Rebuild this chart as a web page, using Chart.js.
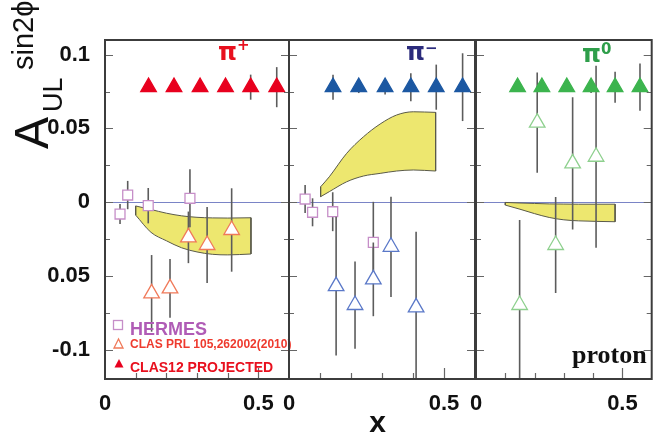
<!DOCTYPE html>
<html>
<head>
<meta charset="utf-8">
<script src="https://cdn.jsdelivr.net/npm/chart.js@4/dist/chart.umd.min.js"></script>
<style>
  html, body { margin: 0; padding: 0; background: #fff; overflow: hidden; width: 658px; height: 436px; }
  #wrap { position: relative; width: 658px; height: 436px; overflow: hidden; }
  #wrap canvas { position: absolute; left: 0; top: 0; }
</style>
</head>
<body>
<div id="wrap">
  <canvas id="panelPlus" width="662" height="436"></canvas>
  <canvas id="panelMinus" width="662" height="436"></canvas>
  <canvas id="panelZero" width="662" height="436"></canvas>
</div>
<script>
// ---- axis ranges and tick labels ----
const yMin = -0.12, yMax = 0.11;
const xMin = 0, xMax = 0.6;
const yTickValues = [-0.1, -0.05, 0, 0.05, 0.1];
const yTickLabels = ['-0.1', '0.05', '0', '0.05', '0.1'];
const yTickMarks = [-0.1, -0.075, -0.05, -0.025, 0, 0.025, 0.05, 0.075, 0.1];
const xTickValues = [0, 0.5];
const xTickLabels = ['0', '0.5'];
const xTickMarks = [0.1, 0.2, 0.3, 0.4, 0.5];

// ---- CLAS12 projected points (same bins for all pions) ----
const projX = [0.142, 0.225, 0.31, 0.393, 0.475, 0.56];
const projPlusY = [0.078, 0.078, 0.078, 0.078, 0.078, 0.078];
const projPlusErr = [0.002, 0.002, 0.002, 0.003, 0.0085, 0.0136];
const projMinusY = [0.078, 0.078, 0.078, 0.078, 0.078, 0.078];
const projMinusErr = [0.0085, 0.004, 0.005, 0.0095, 0.0153, 0.023];
const projZeroY = [0.078, 0.078, 0.078, 0.078, 0.078, 0.078];
const projZeroErr = [0.003, 0.003, 0.003, 0.004, 0.0105, 0.016];

// ---- HERMES ----
const hermesPlusX = [0.049, 0.074, 0.141, 0.277];
const hermesPlusY = [-0.0081, 0.0048, -0.0024, 0.0026];
const hermesPlusErr = [0.0068, 0.0096, 0.012, 0.0197];
const hermesMinusX = [0.052, 0.076, 0.141, 0.272];
const hermesMinusY = [0.0021, -0.0069, -0.0065, -0.0273];
const hermesMinusErr = [0.0095, 0.0095, 0.0132, 0.0275];

// ---- CLAS PRL 105,262002(2010) ----
const clasPlusX = [0.152, 0.212, 0.272, 0.333, 0.413];
const clasPlusY = [-0.0619, -0.0585, -0.0239, -0.0291, -0.0189];
const clasPlusErr = [0.026, 0.020, 0.0175, 0.0258, 0.0283];
const clasMinusX = [0.152, 0.213, 0.272, 0.329, 0.410];
const clasMinusY = [-0.057, -0.0698, -0.0524, -0.0303, -0.0714];
const clasMinusErr = [0.047, 0.0296, 0.025, 0.034, 0.0513];
const clasZeroX = [0.149, 0.209, 0.272, 0.330, 0.410];
const clasZeroY = [-0.0698, 0.0539, -0.0291, 0.0263, 0.0308];
const clasZeroErr = [0.0577, 0.034, 0.0326, 0.0448, 0.0617];

// ---- model bands (upper / lower edges) ----
const bandPlusX = [0.10, 0.15, 0.20, 0.25, 0.30, 0.35, 0.40, 0.476];
const bandPlusUp = [-0.0026, -0.0050, -0.0075, -0.0093, -0.0103, -0.0107, -0.0108, -0.0106];
const bandPlusLow = [-0.0088, -0.0205, -0.0262, -0.0310, -0.0338, -0.0354, -0.0358, -0.0352];
const bandMinusX = [0.102, 0.13, 0.186, 0.24, 0.294, 0.347, 0.401, 0.473];
const bandMinusUp = [0.0104, 0.0172, 0.0331, 0.0443, 0.0530, 0.0591, 0.0613, 0.0609];
const bandMinusLow = [0.0037, 0.0071, 0.0138, 0.0177, 0.0195, 0.0211, 0.0218, 0.0211];
const bandZeroX = [0.10, 0.15, 0.20, 0.25, 0.30, 0.35, 0.475];
const bandZeroUp = [-0.0002, -0.0006, -0.0009, -0.0012, -0.0013, -0.0014, -0.0014];
const bandZeroLow = [-0.0020, -0.0048, -0.0078, -0.0104, -0.0120, -0.0127, -0.0133];

const SANS = "'Liberation Sans', Arial, Helvetica, sans-serif";
const BAND_FILL = '#ede76f';
const BAND_EDGE = '#5a5a4a';
const HERMES_COLOR = '#c68ec8';

function zip(xs, ys) { return xs.map((x, i) => ({ x: x, y: ys[i] })); }

// vertical error bars drawn under each marker set
const errorBarPlugin = {
  id: 'errorBars',
  beforeDatasetDraw(chart, args) {
    const ds = chart.data.datasets[args.index];
    if (!ds.errors) return;
    const ctx = chart.ctx, ys = chart.scales.y, a = chart.chartArea;
    ctx.save();
    ctx.beginPath();
    ctx.rect(a.left, a.top, a.width, a.height);
    ctx.clip();
    ctx.strokeStyle = '#5c5c5c';
    ctx.lineWidth = 1.6;
    args.meta.data.forEach((el, i) => {
      const v = ds.data[i].y, e = ds.errors[i];
      ctx.beginPath();
      ctx.moveTo(el.x, ys.getPixelForValue(v + e));
      ctx.lineTo(el.x, ys.getPixelForValue(v - e));
      ctx.stroke();
    });
    ctx.restore();
  }
};

// zero line, inward tick marks and panel frame
const framePlugin = {
  id: 'panelFrame',
  beforeDatasetsDraw(chart) {
    const ctx = chart.ctx, a = chart.chartArea, ys = chart.scales.y;
    const py = Math.round(ys.getPixelForValue(0)) + 0.5;
    ctx.save();
    ctx.strokeStyle = '#7a84c6';
    ctx.lineWidth = 1;
    ctx.beginPath();
    ctx.moveTo(a.left, py);
    ctx.lineTo(a.right, py);
    ctx.stroke();
    ctx.restore();
  },
  afterDatasetsDraw(chart) {
    const ctx = chart.ctx, a = chart.chartArea, xs = chart.scales.x, ys = chart.scales.y;
    ctx.save();
    ctx.strokeStyle = '#666';
    ctx.lineWidth = 1.2;
    yTickMarks.forEach(v => {
      const py = Math.round(ys.getPixelForValue(v)) + 0.5;
      const major = Math.abs(Math.round(v * 20) - v * 20) < 1e-6;
      const len = major ? 8 : 5;
      ctx.beginPath();
      ctx.moveTo(a.left, py); ctx.lineTo(a.left + len, py);
      ctx.moveTo(a.right - len, py); ctx.lineTo(a.right, py);
      ctx.stroke();
    });
    xTickMarks.forEach(v => {
      const px = Math.round(xs.getPixelForValue(v)) + 0.5;
      const len = Math.abs(v - 0.5) < 1e-6 ? 11 : 6;
      ctx.beginPath();
      ctx.moveTo(px, a.bottom); ctx.lineTo(px, a.bottom - len);
      ctx.stroke();
    });
    ctx.strokeStyle = '#3c3c3c';
    ctx.lineWidth = 2;
    ctx.strokeRect(a.left, a.top, a.right - a.left, a.bottom - a.top);
    ctx.restore();
  }
};

function textPlugin(draw) {
  return { id: 'panelText', afterDraw(chart) { const ctx = chart.ctx; ctx.save(); draw(ctx, chart.chartArea); ctx.restore(); } };
}

function drawPion(ctx, x, y, color, sup, supDy) {
  ctx.fillStyle = color;
  ctx.textAlign = 'left';
  ctx.textBaseline = 'alphabetic';
  ctx.font = "bold 24px 'DejaVu Sans', sans-serif";
  ctx.fillText('\u03c0', x, y);
  const w = ctx.measureText('\u03c0').width;
  ctx.font = "bold 15px 'DejaVu Sans', sans-serif";
  ctx.fillText(sup, x + w, y - supDy);
}

function bandDatasets(xs, up, low) {
  const n = xs.length;
  const clear = 'rgba(0,0,0,0)';
  return [
    { data: zip(xs, up), showLine: true, fill: '+1', backgroundColor: BAND_FILL,
      borderColor: BAND_EDGE, borderWidth: 1, pointRadius: 0, cubicInterpolationMode: 'monotone', order: 10 },
    { data: zip(xs, low), showLine: true, fill: false, backgroundColor: clear,
      borderColor: BAND_EDGE, borderWidth: 1, pointRadius: 0, cubicInterpolationMode: 'monotone', order: 9 },
    { data: [{ x: xs[0], y: up[0] }, { x: xs[0], y: low[0] }], showLine: true, fill: false,
      borderColor: BAND_EDGE, borderWidth: 1, pointRadius: 0, order: 8 },
    { data: [{ x: xs[n - 1], y: up[n - 1] }, { x: xs[n - 1], y: low[n - 1] }], showLine: true, fill: false,
      borderColor: BAND_EDGE, borderWidth: 1, pointRadius: 0, order: 8 }
  ];
}

function markerDataset(xs, ys, errs, style, radius, border, bg, order) {
  return { data: zip(xs, ys), errors: errs, showLine: false, fill: false,
    pointStyle: style, pointRadius: radius, borderColor: border, backgroundColor: bg,
    pointBorderWidth: 1.3, borderWidth: 1.3, order: order };
}

function makeChart(canvasId, padLeft, padRight, showY, datasets, draw) {
  return new Chart(document.getElementById(canvasId), {
    type: 'line',
    data: { datasets: datasets },
    options: {
      responsive: false,
      animation: false,
      events: [],
      layout: { padding: { left: padLeft, right: padRight, top: 40, bottom: 0 } },
      plugins: { legend: { display: false }, tooltip: { enabled: false } },
      scales: {
        x: {
          type: 'linear', min: xMin, max: xMax,
          afterBuildTicks: s => { s.ticks = xTickValues.map(v => ({ value: v })); },
          afterFit: s => { s.height = 57; },
          grid: { display: false, drawTicks: false },
          border: { display: false },
          ticks: { padding: 12, autoSkip: false, maxRotation: 0, color: '#111',
            font: { family: SANS, size: 22, weight: 'bold' },
            callback: (v, i) => xTickLabels[i] }
        },
        y: {
          type: 'linear', min: yMin, max: yMax, display: showY,
          afterBuildTicks: s => { s.ticks = yTickValues.map(v => ({ value: v })); },
          afterFit: s => { s.width = showY ? 105 : 0; },
          grid: { display: false, drawTicks: false },
          border: { display: false },
          ticks: { padding: 15, autoSkip: false, color: '#111',
            font: { family: SANS, size: 22, weight: 'bold' },
            callback: (v, i) => yTickLabels[i] }
        }
      }
    },
    plugins: [framePlugin, errorBarPlugin, textPlugin(draw)]
  });
}

// ---- pi+ panel (with y axis, axis title and legend) ----
makeChart('panelPlus', 0, 373, true, [
  markerDataset(projX, projPlusY, projPlusErr, 'triangle', 9, '#e8001e', '#e8001e', 1),
  markerDataset(clasPlusX, clasPlusY, clasPlusErr, 'triangle', 9, '#f07a5a', '#ffffff', 2),
  markerDataset(hermesPlusX, hermesPlusY, hermesPlusErr, 'rect', 7, HERMES_COLOR, '#ffffff', 3),
  ...bandDatasets(bandPlusX, bandPlusUp, bandPlusLow)
], (ctx, a) => {
  drawPion(ctx, 218, 60, '#e8101e', '+', 10);

  // rotated axis title A_UL^{sin2phi}
  ctx.fillStyle = '#111';
  ctx.textBaseline = 'alphabetic';
  ctx.textAlign = 'left';
  ctx.rotate(-Math.PI / 2);
  ctx.font = '48px ' + SANS;
  ctx.fillText('A', -149, 48);
  ctx.font = '27px ' + SANS;
  ctx.fillText('UL', -112, 62);
  ctx.font = '29px ' + SANS;
  ctx.fillText('sin2\u03d5', -70, 33);
  ctx.setTransform(1, 0, 0, 1, 0, 0);

  // legend
  ctx.lineWidth = 1.3;
  ctx.strokeStyle = HERMES_COLOR;
  ctx.strokeRect(113.5, 320.5, 9, 9);
  ctx.fillStyle = '#b05cb6';
  ctx.font = 'bold 18px ' + SANS;
  ctx.fillText('HERMES', 130, 335);

  ctx.strokeStyle = '#f07a5a';
  ctx.beginPath();
  ctx.moveTo(118.5, 339); ctx.lineTo(114, 348); ctx.lineTo(123, 348); ctx.closePath();
  ctx.stroke();
  ctx.fillStyle = '#ee3a2e';
  ctx.font = 'bold 12px ' + SANS;
  ctx.fillText('CLAS PRL 105,262002(2010)', 130, 347.5);

  ctx.fillStyle = '#e8001e';
  ctx.beginPath();
  ctx.moveTo(119, 359); ctx.lineTo(114.5, 367.5); ctx.lineTo(123.5, 367.5); ctx.closePath();
  ctx.fill();
  ctx.fillStyle = '#e8101e';
  ctx.font = 'bold 14px ' + SANS;
  ctx.fillText('CLAS12 PROJECTED', 130, 371.5);
});

// ---- pi- panel (with x axis title) ----
makeChart('panelMinus', 289, 187, false, [
  markerDataset(projX, projMinusY, projMinusErr, 'triangle', 9, '#1c58a2', '#1c58a2', 1),
  markerDataset(clasMinusX, clasMinusY, clasMinusErr, 'triangle', 9, '#5a78c8', '#ffffff', 2),
  markerDataset(hermesMinusX, hermesMinusY, hermesMinusErr, 'rect', 7, HERMES_COLOR, '#ffffff', 3),
  ...bandDatasets(bandMinusX, bandMinusUp, bandMinusLow)
], (ctx, a) => {
  drawPion(ctx, 406, 60, '#2b2b7c', '\u2212', 7);
  ctx.fillStyle = '#111';
  ctx.textAlign = 'center';
  ctx.font = 'bold 30px ' + SANS;
  ctx.fillText('x', 377.5, 432);
});

// ---- pi0 panel ----
makeChart('panelZero', 476, 2, false, [
  markerDataset(projX, projZeroY, projZeroErr, 'triangle', 9, '#3cb44e', '#3cb44e', 1),
  markerDataset(clasZeroX, clasZeroY, clasZeroErr, 'triangle', 9, '#8ed08e', '#ffffff', 2),
  ...bandDatasets(bandZeroX, bandZeroUp, bandZeroLow)
], (ctx, a) => {
  drawPion(ctx, 582, 62, '#2e9e4a', '0', 8);
  ctx.fillStyle = '#111';
  ctx.textAlign = 'left';
  ctx.font = "bold 26px 'Liberation Serif', 'Times New Roman', serif";
  ctx.fillText('proton', 572, 363);
});
</script>
</body>
</html>
